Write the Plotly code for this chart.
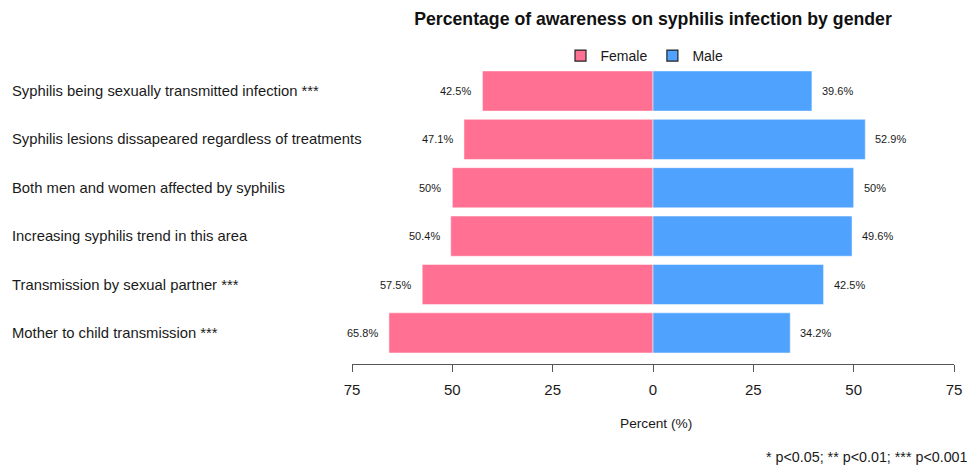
import plotly.graph_objects as go

categories = [
    "Syphilis being sexually transmitted infection ***",
    "Syphilis lesions dissapeared regardless of treatments",
    "Both men and women affected by syphilis",
    "Increasing syphilis trend in this area",
    "Transmission by sexual partner ***",
    "Mother to child transmission ***",
]
female = [42.5, 47.1, 50, 50.4, 57.5, 65.8]
male = [39.6, 52.9, 50, 49.6, 42.5, 34.2]
female_labels = ["42.5%", "47.1%", "50%", "50.4%", "57.5%", "65.8%"]
male_labels = ["39.6%", "52.9%", "50%", "49.6%", "42.5%", "34.2%"]
tick_vals = [-75, -50, -25, 0, 25, 50, 75]
tick_text = ["75", "50", "25", "0", "25", "50", "75"]

FEMALE_C = "#FF7092"
MALE_C = "#4FA3FF"
FONT = "Liberation Sans, Arial, sans-serif"
TXT = "#1a1a1a"

W, H = 973, 465
L, R, T, B = 352, 19, 62, 101
pw = W - L - R
ph = H - T - B

fig = go.Figure()
fig.add_trace(go.Bar(
    y=categories, x=[-v for v in female], orientation="h",
    marker=dict(color=FEMALE_C, line=dict(color="white", width=0.5)),
    showlegend=False, hoverinfo="skip"))
fig.add_trace(go.Bar(
    y=categories, x=male, orientation="h",
    marker=dict(color=MALE_C, line=dict(color="white", width=0.5)),
    showlegend=False, hoverinfo="skip"))

# legend entries
for name, col in [("Female", FEMALE_C), ("Male", MALE_C)]:
    fig.add_trace(go.Scatter(
        x=[None], y=[None], mode="markers", name=name,
        marker=dict(symbol="square", size=11, color=col,
                    line=dict(color="#222222", width=1.2))))

annotations = []
# value labels
for c, v, t in zip(categories, female, female_labels):
    annotations.append(dict(x=-v, y=c, xref="x", yref="y", text=t,
                            showarrow=False, xanchor="right", xshift=-9,
                            font=dict(size=11, color=TXT, family=FONT)))
for c, v, t in zip(categories, male, male_labels):
    annotations.append(dict(x=v, y=c, xref="x", yref="y", text=t,
                            showarrow=False, xanchor="left", xshift=8,
                            font=dict(size=11, color=TXT, family=FONT)))
# category labels, left aligned
for c in categories:
    annotations.append(dict(x=(10 - L) / pw, y=c, xref="paper", yref="y",
                            text=c, showarrow=False, xanchor="left",
                            font=dict(size=14.8, color=TXT, family=FONT)))
# axis title
annotations.append(dict(x=(656 - L) / pw, y=(T + ph - 423) / ph, xref="paper", yref="paper",
                        text="Percent (%)", showarrow=False,
                        xanchor="center", yanchor="middle",
                        font=dict(size=13.7, color=TXT, family=FONT)))
# footnote
annotations.append(dict(x=(970 - L) / pw, y=(T + ph - 457) / ph, xref="paper", yref="paper",
                        text="* p<0.05; ** p<0.01; *** p<0.001", showarrow=False,
                        xanchor="right", yanchor="middle",
                        font=dict(size=14.3, color=TXT, family=FONT)))

fig.update_layout(
    width=W, height=H,
    margin=dict(l=L, r=R, t=T, b=B, pad=0),
    plot_bgcolor="white", paper_bgcolor="white",
    barmode="relative", bargap=0.17,
    font=dict(family=FONT, color=TXT),
    title=dict(text="<b>Percentage of awareness on syphilis infection by gender</b>",
               x=653 / W, xanchor="center", y=1 - 19 / H, yanchor="middle",
               font=dict(size=17.7, color="#111111", family=FONT)),
    legend=dict(orientation="h", x=0.5 - 8.5 / pw, xanchor="center",
                y=(T + ph - 56) / ph, yanchor="middle",
                font=dict(size=14, color=TXT, family=FONT),
                itemwidth=30, tracegroupgap=0, bgcolor="rgba(0,0,0,0)"),
    annotations=annotations,
)
fig.update_xaxes(range=[-75, 75], tickvals=tick_vals, ticktext=tick_text,
                 showgrid=False, zeroline=False, showline=True,
                 linecolor="#555555", linewidth=1, ticks="outside",
                 ticklen=7, tickcolor="#555555", ticklabelstandoff=5,
                 tickfont=dict(size=15, color=TXT, family=FONT))
fig.update_yaxes(categoryorder="array", categoryarray=list(reversed(categories)),
                 range=[-0.643, 5.6], showticklabels=False, showgrid=False,
                 zeroline=False, showline=False, ticks="")

fig.write_html("out.html")
